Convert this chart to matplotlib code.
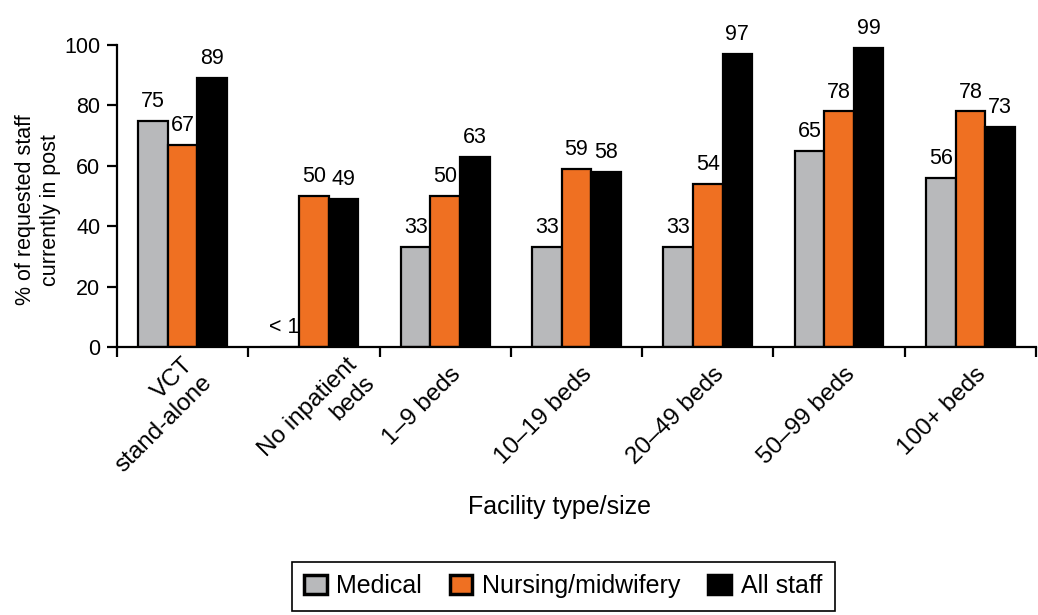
import matplotlib
matplotlib.use("Agg")
import matplotlib.pyplot as plt
import matplotlib.transforms as mtransforms
from matplotlib.patches import Patch
import numpy as np

plt.rcParams['font.family'] = ['Liberation Sans', 'DejaVu Sans']

# data
categories = ["VCT\nstand-alone", "No inpatient\nbeds", "1\u20139 beds", "10\u201319 beds",
              "20\u201349 beds", "50\u201399 beds", "100+ beds"]
medical = [75, 0, 33, 33, 33, 65, 56]
nursing = [67, 50, 50, 59, 54, 78, 78]
all_staff = [89, 49, 63, 58, 97, 99, 73]
medical_labels = ["75", "< 1", "33", "33", "33", "65", "56"]
nursing_labels = [str(v) for v in nursing]
all_labels = [str(v) for v in all_staff]

GRAY = "#b8b9bb"
ORANGE = "#ef7022"
BLACK = "#000000"

fig = plt.figure(figsize=(10.38, 6.15), dpi=100)
ax = fig.add_axes([117/1038, 1-347/615, (1036-117)/1038, (347-45)/615])

x = np.arange(len(categories))
w = 0.225
series = [(medical, medical_labels, GRAY, -w),
          (nursing, nursing_labels, ORANGE, 0),
          (all_staff, all_labels, BLACK, w)]
for vals, labs, col, off in series:
    ax.bar(x + off, vals, width=w, color=col, edgecolor="black", linewidth=1.6, zorder=2)
    for xi, v, lab in zip(x, vals, labs):
        ax.annotate(lab, (xi + off, v), xytext=(0, 10), textcoords="offset points",
                    ha="center", va="baseline", fontsize=15.5, annotation_clip=False)

ax.set_xlim(-0.5, 6.41)
ax.set_ylim(0, 100)
ax.set_yticks([0, 20, 40, 60, 80, 100])
ax.tick_params(axis="y", labelsize=15.5, length=7, width=1.6, pad=5)

# tick marks between groups, labels at group centres
ax.set_xticks(x)
ax.set_xticklabels(categories, rotation=45, ha="right", va="center",
                   rotation_mode="anchor", fontsize=17.5, multialignment="right")
ax.set_xticks(np.arange(-0.5, len(categories), 1.0), minor=True)
ax.tick_params(axis="x", which="major", length=0, pad=17)
ax.tick_params(axis="x", which="minor", length=7, width=1.6)

# nudge the rotated labels to the right (points)
nudge = [12, 35, 9, 9, 9, 9, 9]
for lab, dx in zip(ax.get_xticklabels(), nudge):
    lab.set_transform(lab.get_transform() +
                      mtransforms.ScaledTranslation(dx/72, 0, fig.dpi_scale_trans))

for s in ["top", "right"]:
    ax.spines[s].set_visible(False)
for s in ["left", "bottom"]:
    ax.spines[s].set_linewidth(1.6)

fig.text(38/1038, 1-210/615, "% of requested staff\ncurrently in post", rotation=90,
         ha="center", va="center", fontsize=15.5, multialignment="center")
fig.text(560/1038, 1-507/615, "Facility type/size", ha="center", va="center", fontsize=18)

handles = [Patch(facecolor=GRAY, edgecolor="black", linewidth=2.5, label="Medical"),
           Patch(facecolor=ORANGE, edgecolor="black", linewidth=2.5, label="Nursing/midwifery"),
           Patch(facecolor=BLACK, edgecolor="black", linewidth=2.5, label="All staff")]
leg = fig.legend(handles=handles, loc="center", bbox_to_anchor=(563/1038, 1-586/615),
                 ncol=3, fontsize=18, frameon=True, fancybox=False, framealpha=1,
                 edgecolor="black", handlelength=0.9, handleheight=0.8,
                 handletextpad=0.4, columnspacing=1.1, borderpad=0.5)
leg.get_frame().set_linewidth(1.2)

fig.savefig("out.png", dpi=100)
